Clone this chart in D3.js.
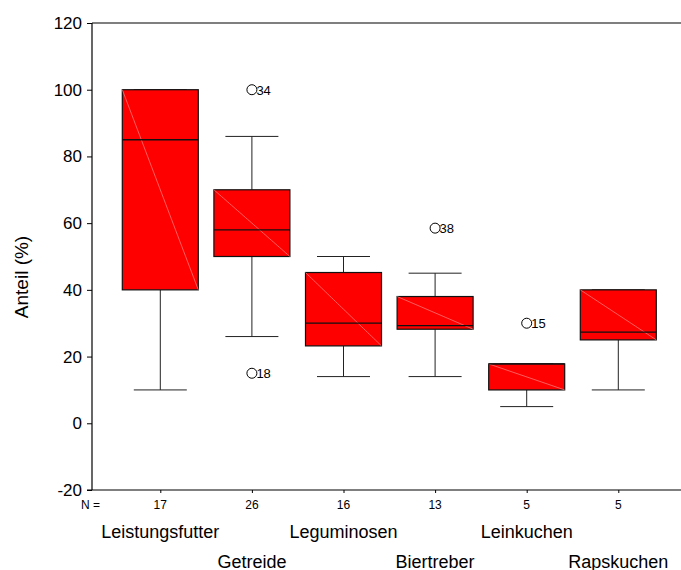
<!DOCTYPE html>
<html><head><meta charset="utf-8">
<script src="https://cdn.jsdelivr.net/npm/d3@7"></script>
<style>body{margin:0;background:#fff}svg{display:block}text{font-family:Arial,"Liberation Sans",sans-serif}</style>
</head><body>
<svg id="c" width="681" height="570"></svg>
<script>
const categories = ["Leistungsfutter","Getreide","Leguminosen","Biertreber","Leinkuchen","Rapskuchen"];
const counts = [17,26,16,13,5,5];
const whiskerLow = [10,26,14,14,5,10];
const q1 = [40,50,23.2,28.2,10,25];
const median = [85,58,30,29.3,17.8,27.3];
const q3 = [100,70,45.2,38,17.8,40];
const whiskerHigh = [100,86,50,45,17.8,40];
const outliers = [
  {cat:"Getreide", value:100, label:"34"},
  {cat:"Getreide", value:15, label:"18"},
  {cat:"Biertreber", value:58.5, label:"38"},
  {cat:"Leinkuchen", value:30, label:"15"}
];
const yTicks = [-20,0,20,40,60,80,100,120];

const svg = d3.select("#c");
const mLeft = 92, mTop = 23, mRight = 681, mBottom = 490;
const y = d3.scaleLinear().domain([-20,120]).range([mBottom, mTop]);
const x = d3.scalePoint().domain(categories).range([160.3, 618.3]);
const boxHalf = 38, capHalf = 26.5;

const ya = svg.append("g").attr("transform",`translate(${mLeft},0)`)
  .call(d3.axisLeft(y).tickValues(yTicks).tickSize(5).tickPadding(5).tickFormat(d => String(d)));
ya.select(".domain").remove();
ya.selectAll("text").style("font-size","17px").attr("fill","#000");
ya.selectAll("line").attr("stroke","#000");
svg.append("line").attr("x1",mLeft).attr("x2",mLeft).attr("y1",mTop).attr("y2",mBottom).attr("stroke","#000").attr("stroke-width",1.2);
svg.append("line").attr("x1",mLeft).attr("x2",mRight).attr("y1",mTop).attr("y2",mTop).attr("stroke","#000").attr("stroke-width",1.2);
svg.append("line").attr("x1",mLeft-5).attr("x2",mRight).attr("y1",mBottom).attr("y2",mBottom).attr("stroke","#000").attr("stroke-width",1.2);

const xa = svg.append("g").attr("transform",`translate(0,${mBottom})`)
  .call(d3.axisBottom(x).tickSize(3).tickFormat(""));
xa.select(".domain").remove();
xa.selectAll("line").attr("stroke","#000");

svg.append("text").attr("transform","translate(28,277) rotate(-90)")
  .attr("text-anchor","middle").style("font-size","19px").text("Anteil (%)");

svg.append("text").attr("x",81).attr("y",509).style("font-size","12px").text("N =");

const g = svg.append("g");
categories.forEach((c,i)=>{
  const cx = x(c);
  g.append("line").attr("x1",cx).attr("x2",cx).attr("y1",y(whiskerLow[i])).attr("y2",y(q1[i])).attr("stroke","#222");
  g.append("line").attr("x1",cx).attr("x2",cx).attr("y1",y(q3[i])).attr("y2",y(whiskerHigh[i])).attr("stroke","#222");
  g.append("line").attr("x1",cx-capHalf).attr("x2",cx+capHalf).attr("y1",y(whiskerLow[i])).attr("y2",y(whiskerLow[i])).attr("stroke","#222");
  g.append("line").attr("x1",cx-capHalf).attr("x2",cx+capHalf).attr("y1",y(whiskerHigh[i])).attr("y2",y(whiskerHigh[i])).attr("stroke","#222");
  g.append("rect").attr("x",cx-boxHalf).attr("width",2*boxHalf)
    .attr("y",y(q3[i])).attr("height",y(q1[i])-y(q3[i]))
    .attr("fill","#ff0000").attr("stroke","#111").attr("stroke-width",1.2);
  g.append("line").attr("x1",cx-boxHalf).attr("y1",y(q3[i])).attr("x2",cx+boxHalf).attr("y2",y(q1[i]))
    .attr("stroke","#ff9a9a").attr("stroke-width",0.6);
  g.append("line").attr("x1",cx-boxHalf).attr("x2",cx+boxHalf).attr("y1",y(median[i])).attr("y2",y(median[i])).attr("stroke","#111").attr("stroke-width",1.3);
  svg.append("text").attr("x",cx).attr("y",509).attr("text-anchor","middle").style("font-size","12px").text(counts[i]);
  svg.append("text").attr("x",cx).attr("y", i%2===0 ? 538 : 567.5).attr("text-anchor","middle").style("font-size","18px").text(c);
});

outliers.forEach(o=>{
  const cx = x(o.cat), cy = y(o.value);
  g.append("circle").attr("cx",cx).attr("cy",cy).attr("r",5).attr("fill","#fff").attr("stroke","#000");
  g.append("text").attr("x",cx+4.5).attr("y",cy+4.8).style("font-size","13px").text(o.label);
});
</script>
</body></html>
